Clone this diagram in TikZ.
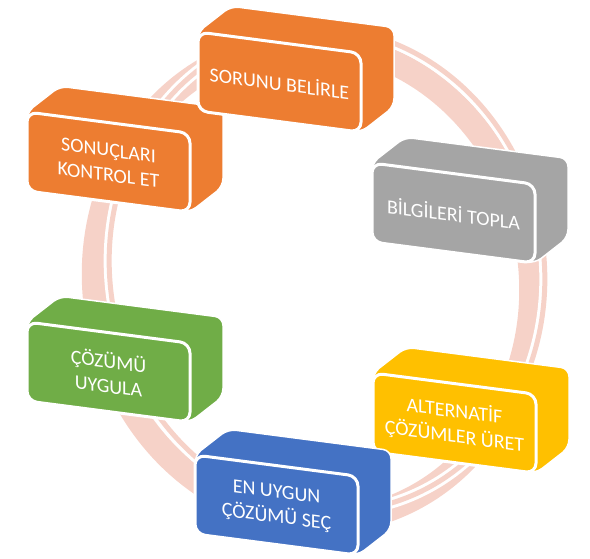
\documentclass[tikz,border=0pt]{standalone}
\usepackage{fontspec}
\setmainfont{Carlito}
\definecolor{ringpink}{HTML}{F6D2C8}
\definecolor{boxorange}{HTML}{ED7D31}
\definecolor{boxgrey}{HTML}{A5A5A5}
\definecolor{boxyellow}{HTML}{FFC000}
\definecolor{boxblue}{HTML}{4472C4}
\definecolor{boxgreen}{HTML}{70AD47}

\begin{document}
\begin{tikzpicture}[x=1pt, y=-1pt,
    ring/.style={draw=ringpink},
    steptext/.style={transform shape, text=white, align=center,
        font=\fontsize{20}{25}\selectfont},
    stepbox/.pic={
        \begin{scope}[yslant=-0.13]
            \path[pic actions, draw=white, line width=1.5pt, rounded corners=8pt]
                (0,0) -- (33,-30) -- (196,-30) -- (196,49) -- (163,79) -- (0,79) -- cycle;
            \path[pic actions, draw=white, line width=3pt, rounded corners=10pt]
                (0,0) rectangle (163,79);
            \node[steptext] (-text) at (81.5,40) {#1};
        \end{scope}
    }
]
    \useasboundingbox (0,0) rectangle (590,559);
    % cycle ring
    \draw[ring, line width=25pt, rotate around={10:(313,282)}]
        (313,282) ellipse [x radius=218, y radius=240];
    \draw[white, line width=11pt, rotate around={10:(327,270)}]
        (327,270) ellipse [x radius=217, y radius=242];
    \draw[ring, line width=5pt, rotate around={10:(327,270)}]
        (327,270) ellipse [x radius=217, y radius=242];
    % steps
    \pic[fill=boxorange] (kontrol) at (27,112) {stepbox={SONUÇLARI\\KONTROL ET}};
    \pic[fill=boxorange] (belirle) at (198,32) {stepbox={SORUNU BELİRLE}};
    \pic[fill=boxgrey] (topla) at (372,163) {stepbox={BİLGİLERİ TOPLA}};
    \pic[fill=boxyellow] (uret) at (373,373) {stepbox={ALTERNATİF\\ÇÖZÜMLER ÜRET}};
    \pic[fill=boxgreen] (uygula) at (27,322) {stepbox={ÇÖZÜMÜ\\UYGULA}};
    \pic[fill=boxblue] (sec) at (195,455) {stepbox={EN UYGUN\\ÇÖZÜMÜ SEÇ}};
\end{tikzpicture}
\end{document}
